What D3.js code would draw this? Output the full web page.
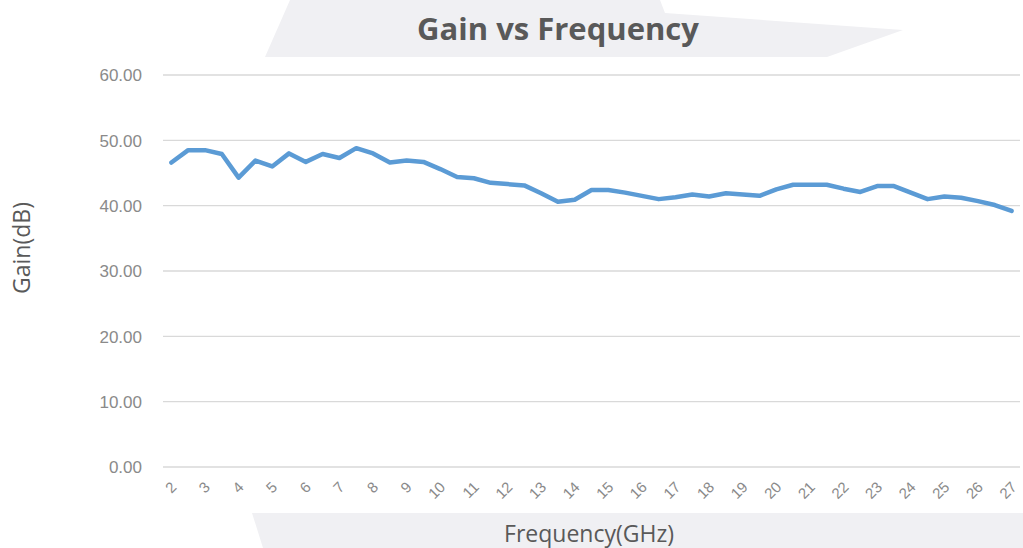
<!DOCTYPE html>
<html>
<head>
<meta charset="utf-8">
<script src="https://cdn.jsdelivr.net/npm/d3@7"></script>
<style>
  body { margin: 0; background: #fff; }
  svg { display: block; }
</style>
</head>
<body>
<svg id="chart" width="1023" height="548"></svg>
<script>
// frequency points (GHz), half-GHz steps
const freqs = d3.range(2, 27.01, 0.5)
// gain readings (dB), one per frequency
const gain = [
  46.6, 48.5, 48.5, 47.9, 44.3, 46.9, 46.0, 48.0, 46.7, 47.9,
  47.3, 48.8, 48.0, 46.6, 46.9, 46.7, 45.6, 44.4, 44.2, 43.5,
  43.3, 43.1, 41.9, 40.6, 40.9, 42.4, 42.4, 42.0, 41.5, 41.0,
  41.3, 41.7, 41.4, 41.9, 41.7, 41.5, 42.5, 43.2, 43.2, 43.2,
  42.6, 42.1, 43.0, 43.0, 42.0, 41.0, 41.4, 41.2, 40.7, 40.1,
  39.2
]
const yTicks = [0, 10, 20, 30, 40, 50, 60]
const title = 'Gain vs Frequency'
const xTitle = 'Frequency(GHz)'
const yTitle = 'Gain(dB)'

const svg = d3.select('#chart')
const margin = { top: 75, right: 3, bottom: 81, left: 163 }
const W = 1023
const H = 548

// pale backdrop shapes behind title and x-axis title
svg.append('path')
  .attr('d', 'M290,0 L660,0 L665,13 L903,30 L827,57 L265,57 Z')
  .attr('fill', '#f0f0f3')
svg.append('path')
  .attr('d', 'M252,513 L1023,513 L1023,548 L263,548 Z')
  .attr('fill', '#f0f0f3')

const x = d3.scaleBand()
  .domain(freqs)
  .range([margin.left, W - margin.right])

const y = d3.scaleLinear()
  .domain([0, 60])
  .range([H - margin.bottom, margin.top])

// gridlines
svg.append('g')
  .selectAll('line')
  .data(yTicks)
  .join('line')
  .attr('x1', margin.left)
  .attr('x2', W - margin.right)
  .attr('y1', d => y(d))
  .attr('y2', d => y(d))
  .attr('stroke', '#d9d9d9')
  .attr('stroke-width', 1.3)

// y axis labels
const yAxis = svg.append('g')
  .attr('transform', `translate(${margin.left - 21},0)`)
  .call(d3.axisLeft(y).tickValues(yTicks).tickFormat(d3.format('.2f')).tickSize(0))
yAxis.select('.domain').remove()
yAxis.selectAll('text')
  .attr('x', 0)
  .attr('dy', '0.35em')
  .style('font-family', '"Liberation Sans", Arial, sans-serif')
  .style('font-size', '17px')
  .style('fill', '#8a8a8a')

// x axis labels, every whole GHz, rotated
const xAxis = svg.append('g')
  .attr('transform', `translate(0,${y(0)})`)
  .call(d3.axisBottom(x).tickValues(freqs.filter(f => f % 1 === 0)).tickSize(0))
xAxis.select('.domain').remove()
xAxis.selectAll('text')
  .attr('text-anchor', 'end')
  .attr('dy', 0)
  .attr('y', 0)
  .attr('transform', 'translate(6,21) rotate(-45)')
  .style('font-family', '"Liberation Sans", Arial, sans-serif')
  .style('font-size', '15px')
  .style('fill', '#8a8a8a')

// the line
const line = d3.line()
  .x((d, i) => x(freqs[i]) + x.bandwidth() / 2)
  .y(d => y(d))

svg.append('path')
  .datum(gain)
  .attr('d', line)
  .attr('fill', 'none')
  .attr('stroke', '#5b9bd5')
  .attr('stroke-width', 4.5)
  .attr('stroke-linejoin', 'round')
  .attr('stroke-linecap', 'round')

// titles
svg.append('text')
  .attr('x', 558)
  .attr('y', 40)
  .attr('text-anchor', 'middle')
  .style('font-family', '"Open Sans", sans-serif')
  .style('font-weight', 'bold')
  .style('font-size', '31px')
  .style('fill', '#595959')
  .text(title)

svg.append('text')
  .attr('x', 589)
  .attr('y', 542)
  .attr('text-anchor', 'middle')
  .style('font-family', '"Open Sans", sans-serif')
  .style('font-size', '23px')
  .style('fill', '#595959')
  .text(xTitle)

svg.append('text')
  .attr('transform', 'translate(30,248) rotate(-90)')
  .attr('text-anchor', 'middle')
  .style('font-family', '"Open Sans", sans-serif')
  .style('font-size', '23px')
  .style('fill', '#595959')
  .text(yTitle)
</script>
</body>
</html>
